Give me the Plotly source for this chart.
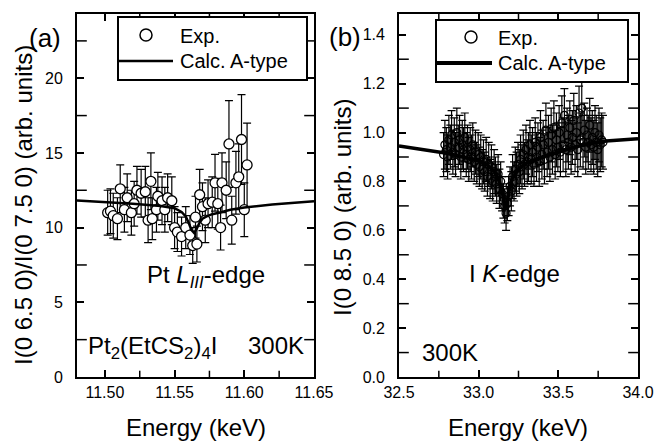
import plotly.graph_objects as go

# ---------------- data: panel (a) Pt L_III-edge ----------------
a_energy = [11.502, 11.504, 11.506, 11.509, 11.511, 11.514, 11.516, 11.519, 11.521, 11.523,
            11.526, 11.529, 11.531, 11.533, 11.534, 11.537, 11.538, 11.541, 11.543, 11.545,
            11.548, 11.550, 11.552, 11.555, 11.558, 11.561, 11.563, 11.565, 11.566, 11.568,
            11.570, 11.572, 11.574, 11.577, 11.579, 11.581, 11.583, 11.584, 11.587, 11.589,
            11.591, 11.594, 11.596, 11.598, 11.600, 11.602]
a_exp = [11.0, 11.1, 10.8, 10.6, 12.6, 11.2, 12.0, 11.0, 11.6, 12.5,
         12.3, 12.4, 10.5, 13.1, 10.6, 11.2, 12.1, 11.8, 11.2, 12.0,
         11.8, 10.0, 9.7, 9.4, 10.0, 9.5, 8.8, 10.7, 8.9, 12.2,
         11.4, 10.5, 11.6, 11.7, 13.0, 11.6, 10.0, 13.0, 12.5, 15.6,
         10.5, 13.0, 13.4, 15.9, 11.2, 14.2]
a_err = [1.5, 1.5, 1.5, 1.4, 1.6, 1.5, 1.6, 1.5, 1.5, 1.6,
         1.6, 1.7, 1.5, 1.9, 1.4, 1.5, 1.6, 1.6, 1.5, 1.6,
         1.6, 1.4, 1.3, 1.3, 1.4, 1.3, 1.2, 1.4, 1.2, 1.7,
         1.6, 1.5, 1.6, 1.7, 1.9, 1.7, 1.5, 2.0, 1.9, 2.9,
         1.6, 2.1, 2.2, 3.0, 1.8, 2.8]
a_calc_energy = [11.48, 11.50, 11.52, 11.54, 11.55, 11.555, 11.558, 11.560, 11.562, 11.564,
                 11.566, 11.568, 11.570, 11.573, 11.577, 11.584, 11.590, 11.600, 11.620, 11.650]
a_calc = [11.82, 11.72, 11.60, 11.45, 11.30, 11.05, 10.75, 10.35, 9.85, 9.65,
          9.95, 10.35, 10.60, 10.75, 10.90, 11.05, 11.20, 11.35, 11.55, 11.77]

# ---------------- data: panel (b) I K-edge ----------------
b_energy = [32.780, 32.788, 32.797, 32.805, 32.813, 32.822, 32.830, 32.838, 32.847, 32.855,
            32.863, 32.872, 32.880, 32.888, 32.897, 32.905, 32.913, 32.922, 32.930, 32.938,
            32.947, 32.955, 32.963, 32.972, 32.980, 32.988, 32.997, 33.005, 33.013, 33.022,
            33.030, 33.038, 33.047, 33.055, 33.063, 33.072, 33.080, 33.088, 33.097, 33.105,
            33.113, 33.122, 33.130, 33.138, 33.147, 33.155, 33.163, 33.172, 33.180, 33.188,
            33.197, 33.205, 33.213, 33.222, 33.230, 33.238, 33.247, 33.255, 33.263, 33.272,
            33.280, 33.288, 33.297, 33.305, 33.313, 33.322, 33.330, 33.338, 33.347, 33.355,
            33.363, 33.372, 33.380, 33.388, 33.397, 33.405, 33.413, 33.422, 33.430, 33.438,
            33.447, 33.455, 33.463, 33.472, 33.480, 33.488, 33.497, 33.505, 33.513, 33.522,
            33.530, 33.538, 33.547, 33.555, 33.563, 33.572, 33.580, 33.588, 33.597, 33.605,
            33.613, 33.622, 33.630, 33.638, 33.647, 33.655, 33.663, 33.672, 33.680, 33.688,
            33.697, 33.705, 33.713, 33.722, 33.730, 33.738, 33.747, 33.755, 33.763, 33.772,
            33.780]
b_exp = [0.91, 0.95, 0.93, 0.90, 0.97, 0.94, 0.99, 0.92, 0.96, 0.91,
         1.00, 0.94, 0.97, 0.90, 0.95, 0.93, 0.98, 0.91, 0.94, 0.89,
         0.93, 0.90, 0.95, 0.88, 0.92, 0.87, 0.91, 0.86, 0.90, 0.85,
         0.88, 0.84, 0.89, 0.82, 0.87, 0.81, 0.86, 0.80, 0.84, 0.82,
         0.79, 0.83, 0.77, 0.80, 0.75, 0.72, 0.70, 0.67, 0.71, 0.74,
         0.78, 0.76, 0.82, 0.80, 0.85, 0.83, 0.87, 0.84, 0.89, 0.86,
         0.91, 0.87, 0.93, 0.88, 0.90, 0.95, 0.89, 0.92, 0.87, 0.96,
         0.90, 0.94, 0.88, 0.98, 0.91, 0.95, 0.89, 1.01, 0.92, 0.96,
         0.90, 0.99, 0.93, 1.02, 0.91, 0.97, 0.94, 1.00, 0.92, 1.04,
         0.95, 1.07, 0.93, 0.99, 0.96, 1.02, 0.94, 0.98, 1.05, 0.95,
         1.00, 0.93, 1.08, 0.97, 1.10, 0.96, 1.01, 0.94, 0.99, 0.96,
         1.03, 0.95, 0.98, 0.94, 1.00, 0.96, 0.93, 0.99, 0.95, 0.97,
         0.96]
b_err = [0.09, 0.10, 0.09, 0.09, 0.10, 0.09, 0.10, 0.09, 0.10, 0.09,
         0.10, 0.09, 0.10, 0.09, 0.10, 0.09, 0.10, 0.09, 0.09, 0.09,
         0.09, 0.09, 0.09, 0.08, 0.09, 0.08, 0.09, 0.08, 0.09, 0.08,
         0.09, 0.08, 0.09, 0.08, 0.09, 0.08, 0.09, 0.08, 0.09, 0.08,
         0.08, 0.08, 0.08, 0.08, 0.07, 0.07, 0.07, 0.07, 0.07, 0.08,
         0.08, 0.08, 0.09, 0.08, 0.09, 0.09, 0.09, 0.09, 0.10, 0.09,
         0.10, 0.09, 0.10, 0.09, 0.10, 0.10, 0.10, 0.10, 0.09, 0.10,
         0.10, 0.10, 0.10, 0.11, 0.10, 0.10, 0.10, 0.11, 0.10, 0.11,
         0.10, 0.11, 0.10, 0.11, 0.10, 0.11, 0.10, 0.11, 0.10, 0.11,
         0.11, 0.11, 0.11, 0.11, 0.11, 0.11, 0.11, 0.11, 0.11, 0.11,
         0.11, 0.11, 0.11, 0.11, 0.11, 0.11, 0.11, 0.11, 0.11, 0.11,
         0.11, 0.11, 0.11, 0.11, 0.11, 0.11, 0.11, 0.11, 0.11, 0.11,
         0.11]
b_calc_energy = [32.50, 32.60, 32.70, 32.80, 32.90, 33.00, 33.05, 33.10, 33.13, 33.15,
                 33.165, 33.175, 33.19, 33.21, 33.25, 33.30, 33.40, 33.50, 33.60, 33.70,
                 33.80, 34.00]
b_calc = [0.945, 0.935, 0.925, 0.915, 0.900, 0.885, 0.870, 0.840, 0.800, 0.750,
          0.690, 0.700, 0.760, 0.810, 0.850, 0.875, 0.900, 0.920, 0.940, 0.955,
          0.965, 0.975]

# axis ranges and minor tick positions
a_xrange = [11.48, 11.65]
a_yrange = [0, 24.3]
b_xrange = [32.5, 34.0]
b_yrange = [0, 1.485]
a_x_minor = [11.525, 11.575, 11.625]
a_y_minor = [2.5, 7.5, 12.5, 17.5, 22.5]
b_x_minor = [32.75, 33.25, 33.75]
b_y_minor = [0.1, 0.3, 0.5, 0.7, 0.9, 1.1, 1.3]

# ---------------- layout helpers ----------------
W, H = 655, 445
FONT = "Liberation Sans, Arial, Helvetica, sans-serif"
NB = "\u00a0\u00a0"


def px(x):
    return x / W


def py(y):
    return 1 - y / H


fig = go.Figure()

fig.add_trace(go.Scatter(
    x=a_energy, y=a_exp, mode="markers",
    marker=dict(symbol="circle", size=10, color="white", line=dict(color="black", width=1.3)),
    xaxis="x", yaxis="y",
    error_y=dict(type="data", array=a_err, visible=True, color="black", thickness=1.2, width=4),
    showlegend=False))
fig.add_trace(go.Scatter(
    x=a_calc_energy, y=a_calc, mode="lines", line=dict(color="black", width=2.5),
    xaxis="x", yaxis="y", showlegend=False))

fig.add_trace(go.Scatter(
    x=b_energy, y=b_exp, mode="markers",
    marker=dict(symbol="circle-open", size=8, color="black", line=dict(color="black", width=1.2)),
    xaxis="x2", yaxis="y2",
    error_y=dict(type="data", array=b_err, visible=True, color="black", thickness=1.2, width=4),
    showlegend=False))
fig.add_trace(go.Scatter(
    x=b_calc_energy, y=b_calc, mode="lines", line=dict(color="black", width=3.5),
    xaxis="x2", yaxis="y2", showlegend=False))


# minor ticks: short line markers on the frame, half clipped by the plot area
def minor_ticks(xa, ya, xvals, yvals, xr, yr):
    fig.add_trace(go.Scatter(
        x=xvals + xvals, y=[yr[0]] * len(xvals) + [yr[1]] * len(xvals), mode="markers",
        marker=dict(symbol="line-ns-open", size=9, color="black", line=dict(color="black", width=1.5)),
        xaxis=xa, yaxis=ya, showlegend=False, hoverinfo="skip", cliponaxis=True))
    fig.add_trace(go.Scatter(
        x=[xr[0]] * len(yvals) + [xr[1]] * len(yvals), y=yvals + yvals, mode="markers",
        marker=dict(symbol="line-ew-open", size=14, color="black", line=dict(color="black", width=1.5)),
        xaxis=xa, yaxis=ya, showlegend=False, hoverinfo="skip", cliponaxis=True))


minor_ticks("x", "y", a_x_minor, a_y_minor, a_xrange, a_yrange)
minor_ticks("x2", "y2", b_x_minor, b_y_minor, b_xrange, b_yrange)

axis_common = dict(
    showline=True, linecolor="black", linewidth=2, mirror="ticks",
    ticks="inside", ticklen=7, tickwidth=1.5, tickcolor="black",
    showgrid=False, zeroline=False, automargin=False, tickmode="linear",
    tickfont=dict(family=FONT, size=16, color="black"),
)

fig.update_layout(
    template="none",
    width=W, height=H,
    margin=dict(l=0, r=0, t=0, b=0, pad=0),
    paper_bgcolor="white", plot_bgcolor="white",
    font=dict(family=FONT, color="black", size=16),
    showlegend=False,
    xaxis=dict(axis_common, domain=[px(77), px(314)], range=a_xrange,
               tick0=11.5, dtick=0.05, tickformat=".2f", anchor="y"),
    yaxis=dict(axis_common, domain=[py(377), py(14)], range=a_yrange,
               tick0=0, dtick=5, ticksuffix=NB, anchor="x"),
    xaxis2=dict(axis_common, domain=[px(399), px(638)], range=b_xrange,
                tick0=32.5, dtick=0.5, tickformat=".1f", anchor="y2"),
    yaxis2=dict(axis_common, domain=[py(377), py(14)], range=b_yrange,
                tick0=0, dtick=0.2, tickformat=".1f", ticksuffix=NB, anchor="x2"),
)

shapes = []
annotations = []


def legend_box(x0, y0, x1, y1, cx, cy, lx0, lx1, ly, lw, tx, ty1, ty2):
    shapes.append(dict(type="rect", xref="paper", yref="paper", x0=px(x0), x1=px(x1), y0=py(y1), y1=py(y0),
                       line=dict(color="black", width=2), fillcolor="white", layer="above"))
    shapes.append(dict(type="circle", xref="paper", yref="paper", xsizemode="pixel", ysizemode="pixel",
                       xanchor=px(cx), yanchor=py(cy), x0=-6, x1=6, y0=-6, y1=6,
                       line=dict(color="black", width=1.5), fillcolor="white", layer="above"))
    shapes.append(dict(type="line", xref="paper", yref="paper", x0=px(lx0), x1=px(lx1), y0=py(ly), y1=py(ly),
                       line=dict(color="black", width=lw), layer="above"))
    annotations.append(dict(text="Exp.", xref="paper", yref="paper", x=px(tx), y=py(ty1),
                            xanchor="left", yanchor="middle", showarrow=False,
                            font=dict(size=20, family=FONT, color="black")))
    annotations.append(dict(text="Calc. A-type", xref="paper", yref="paper", x=px(tx), y=py(ty2),
                            xanchor="left", yanchor="middle", showarrow=False,
                            font=dict(size=20, family=FONT, color="black")))


legend_box(118, 17, 307, 80, 146, 35, 118, 173, 61, 2.5, 178, 36, 61)
legend_box(436, 20, 628, 82, 471, 37, 436, 492, 63, 4, 496, 38, 63)


def text(t, x, y, size, xanchor="center", angle=0):
    annotations.append(dict(text=t, xref="paper", yref="paper", x=px(x), y=py(y), xanchor=xanchor,
                            yanchor="middle", showarrow=False, textangle=angle,
                            font=dict(size=size, family=FONT, color="black")))


text("(a)", 45, 38, 26)
text("(b)", 345, 37, 26)
text("I(0 6.5 0)/I(0 7.5 0) (arb. units)", 23, 205, 24, angle=-90)
text("I(0 8.5 0) (arb. units)", 342, 208, 24, angle=-90)
text("Energy (keV)", 196, 427, 24)
text("Energy (keV)", 518, 427, 24)
text("Pt <i>L</i><sub><i>III</i></sub>-edge", 145, 276, 24, xanchor="left")
text("Pt<sub>2</sub>(EtCS<sub>2</sub>)<sub>4</sub>I", 86, 347, 24, xanchor="left")
text("300K", 306, 345, 24, xanchor="right")
text("I <i>K</i>-edge", 467, 273, 24, xanchor="left")
text("300K", 420, 352, 24, xanchor="left")

fig.update_layout(shapes=shapes, annotations=annotations)

fig.write_html("out.html")
